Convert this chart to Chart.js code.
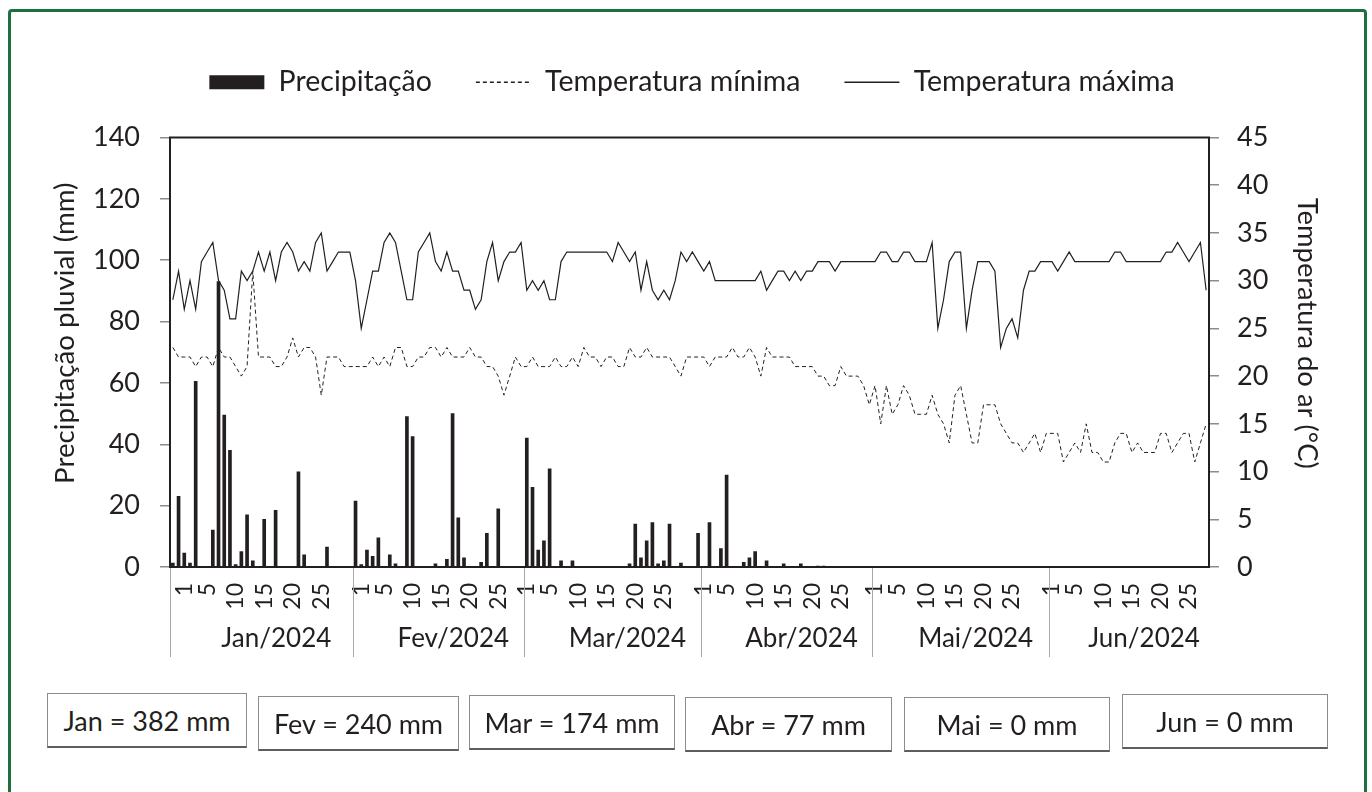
<!DOCTYPE html>
<html lang="pt">
<head>
<meta charset="UTF-8">
<title>Precipitação e temperatura 2024</title>
<script src="https://cdn.jsdelivr.net/npm/chart.js"></script>
<style>
  body { margin: 0; background: #fff; }
  #frame {
    position: absolute; left: 8px; top: 9px; width: 1353px; height: 800px;
    border: 3px solid #1f6e3d; border-radius: 4px;
  }
  #wrap { position: absolute; left: 0; top: 0; width: 1372px; height: 792px; }
  .box {
    position: absolute; box-sizing: border-box; height: 55px;
    border: 1.5px solid #8c8c8c; border-bottom: 2px solid #5e5e5e;
    display: flex; align-items: center; justify-content: center;
    font: 27px Lato, sans-serif; color: #231f20; background: #fff;
  }
</style>
</head>
<body>
<div id="frame"></div>
<div id="wrap"><canvas id="chart" width="1372" height="792"></canvas></div>
<div id="totals"></div>

<script>
// month groups of the category axis (the source sheet shifts the groups by a day or two)
const monthNames = ['Jan/2024', 'Fev/2024', 'Mar/2024', 'Abr/2024', 'Mai/2024', 'Jun/2024'];
const monthShort = ['Jan', 'Fev', 'Mar', 'Abr', 'Mai', 'Jun'];
const monthTotals = [382, 240, 174, 77, 0, 0];   // mm

const daysJan = [30,31,1,2,3,4,5,6,7,8,9,10,11,12,13,14,15,16,17,18,19,20,21,22,23,24,25,26,27,28,29,30];
const daysFev = [31,1,2,3,4,5,6,7,8,9,10,11,12,13,14,15,16,17,18,19,20,21,22,23,24,25,26,27,28,29];
const daysMar = [1,2,3,4,5,6,7,8,9,10,11,12,13,14,15,16,17,18,19,20,21,22,23,24,25,26,27,28,29,30,31];
const daysAbr = [1,2,3,4,5,6,7,8,9,10,11,12,13,14,15,16,17,18,19,20,21,22,23,24,25,26,27,28,29,30];
const daysMai = [1,2,3,4,5,6,7,8,9,10,11,12,13,14,15,16,17,18,19,20,21,22,23,24,25,26,27,28,29,30,31];
const daysJun = [1,2,3,4,5,6,7,8,9,10,11,12,13,14,15,16,17,18,19,20,21,22,23,24,25,26,27,28];
const shownDays = [1, 5, 10, 15, 20, 25];

// daily rain (mm)
const precipJan = [1.3,23,4.5,1.3,60.5,0,0,12,93,49.5,38,0.8,5,17,2,0,15.5,0,18.5,0,0,0,31,4,0,0,0,6.5,0,0,0,0];
const precipFev = [21.5,0.8,5.5,3.5,9.5,0,4,1,0,49,42.5,0,0,0,1,0,2.5,50,16,3,0,0,1.5,11,0,19,0,0,0,0];
const precipMar = [42,26,5.5,8.5,32,0,2,0,2,0,0,0,0,0,0,0,0,0,1,14,3,8.5,14.5,1,2,14,0,1.3,0,0,11];
const precipAbr = [0,14.5,0,6,30,0,0,1.5,3,5,0,2,0,0,1,0,0,1,0,0,0.3,0.3,0,0,0,0,0,0,0,0];
const precipMai = [0,0,0,0,0,0,0,0,0,0,0,0,0,0,0,0,0,0,0,0,0,0,0,0,0,0,0,0,0,0,0];
const precipJun = [0,0,0,0,0,0,0,0,0,0,0,0,0,0,0,0,0,0,0,0,0,0,0,0,0,0,0,0];

// minimum air temperature (°C)
const tminJan = [23,22,22,22,21,22,22,21,23,22,22,21,20,21,31,22,22,22,21,21,22,24,22,23,23,22,18,22,22,22,21,21];
const tminFev = [21,21,21,22,21,22,21,23,23,21,21,22,22,23,23,22,23,22,22,22,23,22,22,21,21,20,18,20,22,21];
const tminMar = [21,22,21,21,21,22,21,21,22,21,23,22,22,21,22,22,21,21,23,22,22,23,22,22,22,22,21,20,22,22,22];
const tminAbr = [22,21,22,22,22,23,22,22,23,22,20,23,22,22,22,22,21,21,21,21,20,20,19,19,21,20,20,20,19,17];
const tminMai = [19,15,19,16,17,19,18,16,16,16,18,16,15,13,18,19,16,13,13,17,17,17,15,14,13,13,12,13,14,12,14];
const tminJun = [14,14,11,12,13,12,15,12,12,11,11,13,14,14,12,13,12,12,12,14,14,12,13,14,14,11,13,15];

// maximum air temperature (°C)
const tmaxJan = [28,31,27,30,27,32,33,34,30,29,26,26,31,30,31,33,31,33,30,33,34,33,31,32,31,34,35,31,32,33,33,33];
const tmaxFev = [30,25,28,31,31,34,35,34,31,28,28,33,34,35,32,31,33,31,31,29,29,27,28,32,34,30,32,33,33,34];
const tmaxMar = [29,30,29,30,28,28,32,33,33,33,33,33,33,33,33,32,34,33,32,33,29,32,29,28,29,28,30,33,32,33,32];
const tmaxAbr = [31,32,30,30,30,30,30,30,30,30,31,29,30,31,31,30,31,30,31,31,32,32,32,31,32,32,32,32,32,32];
const tmaxMai = [32,33,33,32,32,33,33,32,32,32,34,25,28,32,33,33,25,29,32,32,32,31,23,25,26,24,29,31,31,32,32];
const tmaxJun = [32,31,32,33,32,32,32,32,32,32,32,33,33,32,32,32,32,32,32,32,33,33,34,33,32,33,34,29];

const dayLabels = [].concat(daysJan, daysFev, daysMar, daysAbr, daysMai, daysJun);
const monthLengths = [daysJan, daysFev, daysMar, daysAbr, daysMai, daysJun].map(a => a.length);
const precip = [].concat(precipJan, precipFev, precipMar, precipAbr, precipMai, precipJun);
const tmin = [].concat(tminJan, tminFev, tminMar, tminAbr, tminMai, tminJun);
const tmax = [].concat(tmaxJan, tmaxFev, tmaxMar, tmaxAbr, tmaxMai, tmaxJun);

const leftTitle = 'Precipitação pluvial (mm)';
const rightTitle = 'Temperatura do ar (°C)';

const ink = '#231f20';
Chart.defaults.font.family = 'Lato, sans-serif';
Chart.defaults.color = ink;

// extra room between legend and plot
const legendGap = {
    id: 'legendGap',
    beforeLayout(chart) {
        const lg = chart.legend;
        if (lg && !lg._gap) {
            const fit = lg.fit;
            lg.fit = function () { fit.call(this); this.height += 31; };
            lg._gap = true;
        }
    }
};

// plot frame top line, axis titles, second level of the x axis (months)
const monthAxis = {
    id: 'monthAxis',
    afterDraw(chart) {
        const { ctx, chartArea: a, scales: { x, y, y1 } } = chart;
        const step = x.getPixelForValue(1) - x.getPixelForValue(0);
        ctx.save();
        ctx.strokeStyle = ink;
        ctx.lineWidth = 2;
        ctx.beginPath();
        ctx.moveTo(a.left - 1, a.top);
        ctx.lineTo(a.right + 1, a.top);
        ctx.stroke();

        // axis titles sit a little above the middle of the plot, as in the original
        const midY = (a.top + a.bottom) / 2 - 19;
        ctx.fillStyle = ink;
        ctx.textAlign = 'center';
        ctx.textBaseline = 'middle';
        ctx.font = '27.7px Lato';
        ctx.save();
        ctx.translate(y.left + 53, midY);
        ctx.rotate(-Math.PI / 2);
        ctx.fillText(leftTitle, 0, 0);
        ctx.restore();
        ctx.font = '27.4px Lato';
        ctx.save();
        ctx.translate(y1.right - 65, midY);
        ctx.rotate(Math.PI / 2);
        ctx.fillText(rightTitle, 0, 0);
        ctx.restore();

        ctx.font = '26px Lato';
        ctx.textBaseline = 'alphabetic';
        let start = 0;
        monthNames.forEach((name, m) => {
            const left = x.getPixelForValue(start) - step / 2;
            const right = x.getPixelForValue(start + monthLengths[m] - 1) + step / 2;
            ctx.strokeStyle = '#a8a8a8';
            ctx.lineWidth = 1;
            ctx.beginPath();
            ctx.moveTo(Math.round(left) + 0.5, a.bottom + 1);
            ctx.lineTo(Math.round(left) + 0.5, a.bottom + 90);
            ctx.stroke();
            ctx.fillText(name, (left + right) / 2 + 15, a.bottom + 80);
            start += monthLengths[m];
        });
        ctx.restore();
    }
};

new Chart(document.getElementById('chart'), {
    type: 'bar',
    data: {
        labels: dayLabels.map(String),
        datasets: [
            {
                type: 'bar', label: 'Precipitação', data: precip, yAxisID: 'y',
                backgroundColor: ink, barThickness: 3
            },
            {
                type: 'line', label: 'Temperatura mínima', data: tmin, yAxisID: 'y1',
                borderColor: ink, borderWidth: 1, borderDash: [4, 3],
                pointRadius: 0, tension: 0, fill: false
            },
            {
                type: 'line', label: 'Temperatura máxima', data: tmax, yAxisID: 'y1',
                borderColor: ink, borderWidth: 1.2,
                pointRadius: 0, tension: 0, fill: false
            }
        ]
    },
    options: {
        responsive: false,
        animation: false,
        layout: { padding: { left: 12, right: 0, top: 24, bottom: 0 } },
        plugins: {
            tooltip: { enabled: false },
            legend: {
                position: 'top',
                labels: {
                    usePointStyle: true,
                    pointStyleWidth: 55,
                    boxHeight: 14,
                    padding: 44,
                    color: ink,
                    font: { size: 28.5 },
                    generateLabels(chart) {
                        return chart.data.datasets.map((ds, i) => ({
                            text: ds.label,
                            datasetIndex: i,
                            fillStyle: ink,
                            strokeStyle: ink,
                            fontColor: ink,
                            lineWidth: ds.type === 'bar' ? 0 : 1.3,
                            lineDash: ds.borderDash || [],
                            pointStyle: ds.type === 'bar' ? 'rect' : 'line',
                            hidden: false
                        }));
                    }
                }
            }
        },
        scales: {
            x: {
                grid: { display: false },
                border: { color: ink, width: 2 },
                ticks: {
                    autoSkip: false, minRotation: 90, maxRotation: 90, padding: 8,
                    font: { size: 23 }, color: ink,
                    callback: (v, i) => shownDays.includes(dayLabels[i]) ? String(dayLabels[i]) : ''
                },
                afterFit(s) { s.height = 225; }
            },
            y: {
                position: 'left', min: 0, max: 140,
                ticks: { stepSize: 20, padding: 20, font: { size: 27 }, color: ink },
                grid: { drawOnChartArea: false, drawTicks: true, tickLength: 10, color: '#8c8c8c', lineWidth: 1.5 },
                border: { color: ink, width: 2 },
                title: { display: false, text: leftTitle },
                afterFit(s) { s.width = 158; }
            },
            y1: {
                position: 'right', min: 0, max: 45,
                ticks: { stepSize: 5, padding: 18, font: { size: 27 }, color: ink },
                grid: { drawOnChartArea: false, drawTicks: true, tickLength: 10, color: '#8c8c8c', lineWidth: 1.5 },
                border: { color: ink, width: 2 },
                title: { display: false, text: rightTitle },
                afterFit(s) { s.width = 163; }
            }
        }
    },
    plugins: [legendGap, monthAxis]
});

// monthly totals boxes under the chart
const boxPos = [[47, 693, 200], [258, 696, 201], [469, 695, 206], [685, 697, 207], [904, 697, 206], [1122, 694, 206]];
const totals = document.getElementById('totals');
monthShort.forEach((m, i) => {
    const d = document.createElement('div');
    d.className = 'box';
    d.style.left = boxPos[i][0] + 'px';
    d.style.top = boxPos[i][1] + 'px';
    d.style.width = boxPos[i][2] + 'px';
    d.textContent = m + ' = ' + monthTotals[i] + ' mm';
    totals.appendChild(d);
});
</script>
</body>
</html>
